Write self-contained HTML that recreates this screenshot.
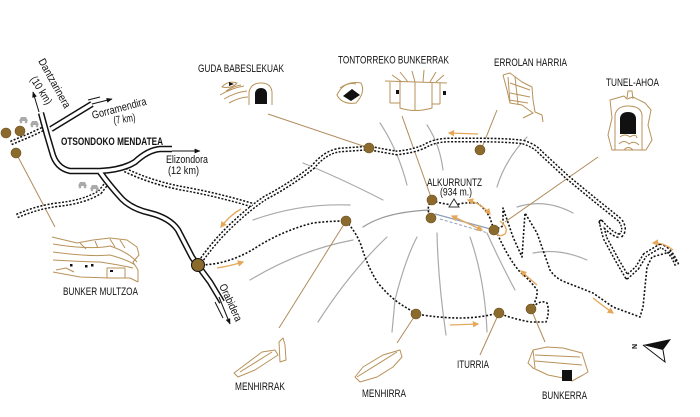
<!DOCTYPE html>
<html><head><meta charset="utf-8">
<style>
html,body{margin:0;padding:0;background:#fff;}
svg{display:block;}
text{font-family:"Liberation Sans",sans-serif;font-size:11px;fill:#111;}
</style></head>
<body>
<svg width="700" height="417" viewBox="0 0 700 417" xmlns="http://www.w3.org/2000/svg">
<defs>
<marker id="ab" viewBox="0 0 10 10" refX="9" refY="5" markerWidth="6" markerHeight="6" orient="auto"><path d="M0,1 L10,5 L0,9 Z" fill="#111"/></marker>
<marker id="ao" viewBox="0 0 10 10" refX="8" refY="5" markerWidth="5" markerHeight="5" orient="auto-start-reverse"><path d="M0,0 L10,5 L0,10 Z" fill="#E5A85A"/></marker>
</defs>
<rect width="700" height="417" fill="#fff"/>

<!-- gray contour spokes -->
<g fill="none" stroke="#aaa" stroke-width="1.2" stroke-linecap="round">
<path d="M303,163 Q340,178 383,200"/>
<path d="M253,220 Q300,203 350,205"/>
<path d="M250,280 Q300,250 353,240"/>
<path d="M318,322 Q350,272 387,237"/>
<path d="M392,332 L395,300 Q405,260 417,237"/>
<path d="M446,335 Q438,280 437,233"/>
<path d="M487,332 Q485,280 470,237"/>
<path d="M515,290 Q500,262 487,233"/>
<path d="M380,123 Q398,150 407,185"/>
<path d="M427,125 Q440,145 443,170"/>
<path d="M527,137 Q505,160 497,187"/>
<path d="M517,207 Q545,198 573,213"/>
<path d="M533,253 Q560,248 587,260"/>
<path d="M363,227 Q385,212 430,210" stroke="#999"/>
</g>
<path d="M435,214 L494,230" stroke="#8fa0b8" stroke-width="1.2" fill="none"/>
<path d="M440,219 L488,233" stroke="#8fa0b8" stroke-width="1" stroke-dasharray="3 2" fill="none"/>

<!-- tan leader lines -->
<g stroke="#B08C5C" stroke-width="1" fill="none">
<path d="M16,153 L55,227"/>
<path d="M268,114 L369,148"/>
<path d="M402,116 L432,200"/>
<path d="M497,110 L481,150"/>
<path d="M598,157 L505,222"/>
<path d="M346,221 L279,328"/>
<path d="M416,314 L397,343"/>
<path d="M499,313 L480,355"/>
<path d="M531,309 L545,342"/>
</g>

<!-- double dashed tracks -->
<g fill="none" stroke-linejoin="round" stroke-linecap="butt">
<g stroke="#111" stroke-width="5" stroke-dasharray="2 1.6">
<path d="M11,143 L30,135 L45,128"/>
<path d="M17,216 Q35,208 55,205 Q85,202 100,192 L107,183"/>
<path d="M125,170 Q150,182 180,188 Q215,194 252,205"/>
<path d="M198,265 Q215,240 235,222 Q250,208 265,198 Q290,185 313,167 Q325,152 340,150 L369,148 Q385,151 397,153 Q415,151 425,146 Q435,140 450,140 L480,140 Q505,140 523,142 Q535,146 540,152 L567,177 L595,200 L620,220 Q627,230 620,236 Q612,235 601,222 L605,238 L617,260 L627,277 L637,268 L645,255 L660,246 Q670,248 677,265"/>
</g>
<g stroke="#fff" stroke-width="2">
<path d="M11,143 L30,135 L45,128"/>
<path d="M17,216 Q35,208 55,205 Q85,202 100,192 L107,183"/>
<path d="M125,170 Q150,182 180,188 Q215,194 252,205"/>
<path d="M198,265 Q215,240 235,222 Q250,208 265,198 Q290,185 313,167 Q325,152 340,150 L369,148 Q385,151 397,153 Q415,151 425,146 Q435,140 450,140 L480,140 Q505,140 523,142 Q535,146 540,152 L567,177 L595,200 L620,220 Q627,230 620,236 Q612,235 601,222 L605,238 L617,260 L627,277 L637,268 L645,255 L660,246 Q670,248 677,265"/>
</g>
</g>

<!-- dotted single paths -->
<g fill="none" stroke="#111" stroke-width="1.6" stroke-dasharray="2 1.8" stroke-linejoin="round">
<path d="M198,265 Q215,265 230,260 Q245,255 260,245 Q285,230 313,223 Q330,221 346,221"/>
<path d="M346,221 Q356,232 361,245 Q368,268 378,283 Q392,300 407,308 L416,314 Q440,318 460,318 Q480,318 498,313 Q510,318 530,322 L546,322 Q550,312 547,303 Q540,299 531,309"/>
<path d="M531,309 Q538,298 537,290 Q530,280 520,272 Q508,258 497,233"/>
<path d="M494,230 L503,226 L503,208 L513,237 L522,257 L525,213 L537,233 L550,270 Q555,278 565,282 L593,293 L613,307 L640,317 L643,307 L647,267 L652,257 L670,252 L677,263"/>
<path d="M432,200 Q440,204 455,205 Q465,202 477,203 Q485,208 490,218 L494,230"/>
<path d="M432,200 Q425,208 431,218"/>
</g>

<!-- summit triangle -->
<path d="M449,207 L454,199 L459,207 Z" fill="#fff" stroke="#333" stroke-width="1"/>

<!-- roads -->
<g fill="none" stroke-linejoin="round">
<g stroke="#111" stroke-width="6.4">
<path d="M41,113 L47,135 L52,152 Q56,168 70,171 L100,171 Q122,170 135,162 Q148,150 160,149 L172,149"/>
<path d="M51,129 L92,104"/>
<path d="M100,172 Q110,186 122,199 Q132,209 150,213 Q170,218 178,230 L192,257 Q198,266 210,282 L222,302"/>
</g>
<g stroke="#fff" stroke-width="3.4">
<path d="M41,113 L47,135 L52,152 Q56,168 70,171 L100,171 Q122,170 135,162 Q148,150 160,149 L172,149"/>
<path d="M51,129 L92,104"/>
<path d="M100,172 Q110,186 122,199 Q132,209 150,213 Q170,218 178,230 L192,257 Q198,266 210,282 L222,302"/>
</g>
<g stroke="#111" stroke-width="1">
<path d="M92,104 L112,99" marker-end="url(#ab)"/>
<path d="M39,112 L33,92" marker-end="url(#ab)"/>
<path d="M172,151 L200,151" marker-end="url(#ab)"/>
<path d="M219,297 L230,324" marker-end="url(#ab)"/>
<path d="M88,100 L100,97"/>
<path d="M215,302 L223,318"/>
</g>
</g>

<!-- gray car icons -->
<g fill="#aaa">
<path d="M19,121 L21,117 L26,117 L28,121 Z"/><circle cx="21" cy="122" r="1.3"/><circle cx="26" cy="122" r="1.3"/>
<path d="M30,125 L32,121 L37,121 L39,125 Z"/><circle cx="32" cy="126" r="1.3"/><circle cx="37" cy="126" r="1.3"/>
<path d="M78,186 L80,182 L85,182 L87,186 Z"/><circle cx="80" cy="187" r="1.3"/><circle cx="85" cy="187" r="1.3"/>
<path d="M90,189 L92,185 L97,185 L99,189 Z"/><circle cx="92" cy="190" r="1.3"/><circle cx="97" cy="190" r="1.3"/>
</g>

<!-- orange arrows -->
<g fill="none" stroke="#E5A85A" stroke-width="1.3">
<path d="M478,134 L449,133" marker-end="url(#ao)"/>
<path d="M241,209 Q230,215 221,227" marker-end="url(#ao)"/>
<path d="M217,268 Q230,266 243,262" marker-end="url(#ao)"/>
<path d="M468,200 Q482,204 490,214" marker-start="url(#ao)" marker-end="url(#ao)"/>
<path d="M452,216 L482,230" marker-start="url(#ao)" marker-end="url(#ao)"/>
<path d="M537,285 L521,271" marker-end="url(#ao)"/>
<path d="M593,298 Q603,306 613,313" marker-end="url(#ao)"/>
<path d="M450,325 L478,324" marker-end="url(#ao)"/>
<path d="M673,250 Q663,242 653,243" marker-end="url(#ao)"/>
<path d="M500,221 Q509,228 505,234 Q498,238 496,232"/>
</g>

<!-- dots -->
<g fill="#8B6A2E" stroke="#6b5020" stroke-width="0.6">
<circle cx="6" cy="133" r="5"/><circle cx="20" cy="131" r="5"/><circle cx="16" cy="153" r="5"/>
<circle cx="369" cy="148" r="5"/><circle cx="480" cy="150" r="5"/>
<circle cx="432" cy="200" r="5"/><circle cx="431" cy="218" r="5"/><circle cx="494" cy="230" r="5"/>
<circle cx="346" cy="221" r="5"/><circle cx="416" cy="314" r="5"/><circle cx="499" cy="313" r="5"/><circle cx="531" cy="309" r="5"/>
<circle cx="198" cy="265" r="6.5" stroke="#111" stroke-width="1"/>
</g>

<!-- illustrations -->
<g fill="none" stroke="#B8925A" stroke-width="1" stroke-linejoin="round">
<path d="M222,87 Q228,80 237,83 Q232,89 222,87 Z"/>
<path d="M220,95 Q232,88 244,86 M224,99 Q236,92 247,91 M229,103 Q240,97 248,97 M226,91 Q234,86 241,85"/>
<path d="M249,105 L249,92 Q251,83 261,83 Q271,83 272,92 L272,105"/>
<path d="M337,95 Q344,80 361,83 Q366,92 356,103 Q342,105 337,95 Z"/>
<path d="M340,88 Q348,82 356,84"/>
<path d="M385,81 L447,83"/>
<path d="M400,72 L408,82 M412,71 L415,82 M424,70 L423,82 M436,72 L430,82 M392,75 L402,82 M444,75 L436,82"/>
<path d="M390,82 L390,103 M400,82 L400,108 Q415,113 432,108 L432,83 M415,82 L415,111 M440,83 L440,104 M390,103 L400,103 M432,104 L440,104"/>
<path d="M503,75 L510,73 L522,82 L532,87 L533,100 L535,112 L542,115 L543,122"/>
<path d="M503,75 L507,90 L510,103 L522,105 L533,113 L523,118"/>
<path d="M510,83 L530,90 M510,93 L530,97 M509,100 L528,103 M508,77 L510,103 M515,77 L518,104"/>
<path d="M610,100 L624,96 L627,99 L633,97 L645,103 L651,110 L648,125 L652,140 L646,150 L612,150 L608,135 L612,118 Z"/>
<path d="M627,98 L628,91 L632,91 L633,99"/>
<path d="M615,150 L615,115 Q617,106 628,106 Q641,106 642,115 L642,150"/>
<path d="M620,137 Q625,133 630,137 Q636,133 637,138 M619,144 Q624,139 629,144 Q634,140 639,145 M624,150 Q628,145 633,150"/>
<path d="M52,237 L77,243 L93,240 L110,238 L127,240 L137,247 L139,255 L133,262 L138,270 L138,282"/>
<path d="M53,244 Q90,250 110,246 Q128,252 137,262 M53,252 Q90,257 110,255 Q128,260 135,265 M53,260 Q90,262 100,262 Q120,265 133,268 M53,272 L80,277 L110,278 L130,278 L138,282"/>
<path d="M80,243 L86,249 M95,241 L98,248 M110,239 L115,247 M120,240 L125,248 M56,270 L66,268 L74,272 M107,268 L107,278 L125,278 L125,268 Z"/>
<path d="M234,373 L262,352 L275,350 L278,355 L255,370 L238,377 Z"/>
<path d="M240,372 L272,352"/>
<path d="M279,342 L283,338 L285,345 L286,360 L280,362 Z"/>
<path d="M355,377 L363,367 L383,355 L400,350 L402,357 L393,367 L377,377 L360,382 Z"/>
<path d="M357,377 L397,352"/>
<path d="M533,350 L547,347 L563,348 L582,353 L588,372 L583,375 L572,381 L563,378 L548,375 L533,368 L528,363 Z"/>
<path d="M535,355 L580,357 M535,361 L582,365 M533,350 L535,368"/>
</g>
<g fill="#111">
<path d="M229,82 L234,84 L229,86 Z"/>
<path d="M255,104 L255,93 Q256,88 261,88 Q266,88 267,93 L267,104 Z"/>
<path d="M343,96 L352,89 L360,95 L351,101 Z"/>
<rect x="396" y="90" width="3" height="4"/><rect x="443" y="91" width="3" height="4"/>
<path d="M620,134 L620,118 Q621,112 628,112 Q635,112 636,118 L636,134 Z"/>
<rect x="70" y="264" width="2.5" height="2.5"/><rect x="85" y="265" width="2.5" height="2.5"/><rect x="91" y="264" width="2.5" height="2.5"/><rect x="110" y="270" width="3" height="2"/>
<rect x="562" y="370" width="10" height="11"/>
</g>

<!-- compass -->
<path d="M643,345 L671,339 L663,350 Z" fill="#111"/>
<path d="M643,345 L665,362 L663,350" fill="none" stroke="#111" stroke-width="1"/>
<text transform="translate(637,349) rotate(-90)" style="font-size:7px;font-weight:bold">N</text>

<!-- labels -->
<text x="198" y="72" textLength="86" lengthAdjust="spacingAndGlyphs">GUDA BABESLEKUAK</text>
<text x="338" y="63.5" textLength="111" lengthAdjust="spacingAndGlyphs">TONTORREKO BUNKERRAK</text>
<text x="494" y="66" textLength="73" lengthAdjust="spacingAndGlyphs">ERROLAN HARRIA</text>
<text x="606" y="86" textLength="53" lengthAdjust="spacingAndGlyphs">TUNEL-AHOA</text>
<text x="427" y="186" textLength="55" lengthAdjust="spacingAndGlyphs">ALKURRUNTZ</text>
<text x="440" y="195.5" textLength="32" lengthAdjust="spacingAndGlyphs">(934 m.)</text>
<text x="63" y="295" textLength="75" lengthAdjust="spacingAndGlyphs">BUNKER MULTZOA</text>
<text x="235" y="390" textLength="50" lengthAdjust="spacingAndGlyphs">MENHIRRAK</text>
<text x="362" y="397" textLength="44" lengthAdjust="spacingAndGlyphs">MENHIRRA</text>
<text x="457" y="368" textLength="32" lengthAdjust="spacingAndGlyphs">ITURRIA</text>
<text x="542" y="399" textLength="45" lengthAdjust="spacingAndGlyphs">BUNKERRA</text>
<text x="61" y="145" textLength="102" lengthAdjust="spacingAndGlyphs" style="font-weight:bold">OTSONDOKO MENDATEA</text>
<text x="166" y="163" textLength="42" lengthAdjust="spacingAndGlyphs">Elizondora</text>
<text x="168" y="174" textLength="31" lengthAdjust="spacingAndGlyphs">(12 km)</text>
<text transform="translate(93,119) rotate(-15)" textLength="56" lengthAdjust="spacingAndGlyphs">Gorramendira</text>
<text transform="translate(114,124) rotate(-8)" textLength="22" lengthAdjust="spacingAndGlyphs">(7 km)</text>
<text transform="translate(38,61) rotate(61)" textLength="55" lengthAdjust="spacingAndGlyphs">Dantzarinera</text>
<text transform="translate(30,79) rotate(58)" textLength="31" lengthAdjust="spacingAndGlyphs">(10 km)</text>
<text transform="translate(219,286) rotate(65)" textLength="40" lengthAdjust="spacingAndGlyphs">Orabidera</text>
</svg>
</body></html>
